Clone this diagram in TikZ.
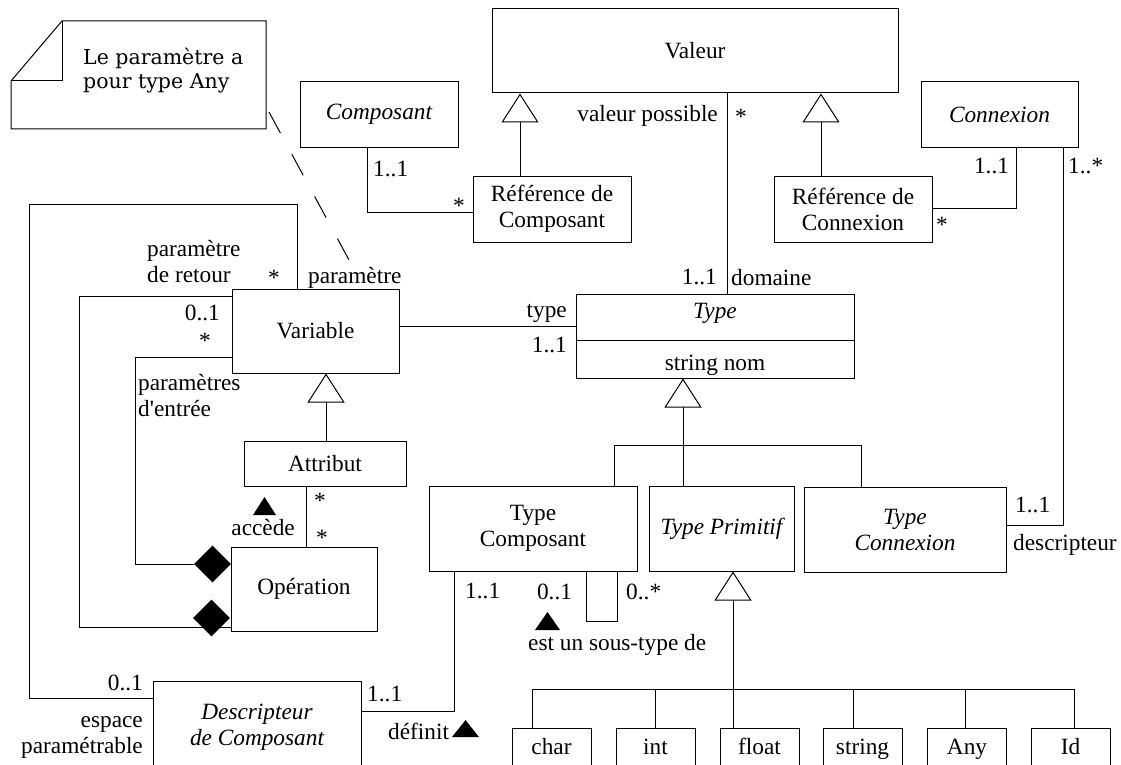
\documentclass[tikz,border=0pt]{standalone}
\usepackage{fontspec}
\setmainfont{Liberation Serif}
\newfontfamily\notefont{DejaVu Serif}
\usetikzlibrary{arrows.meta,shapes.geometric}

\begin{document}
\begin{tikzpicture}[x=1pt,y=-1pt,
  every node/.style={font=\fontsize{23.3}{26}\selectfont, inner sep=0pt},
  ital/.style={font=\fontsize{23.3}{26}\selectfont\itshape},
  box/.style={draw, line width=1pt, align=center},
  prim/.style={box, minimum width=79pt, minimum height=42pt, text height=16pt, text depth=5pt},
  conn/.style={line width=1pt},
  gen/.style={conn, -{Triangle[open, length=29pt, width=37pt]}},
  agg/.style={diamond, fill=black, minimum width=37pt, minimum height=37pt},
  navtip/.style={fill=black},
]
\clip (0,0) rectangle (1121,765);
\fill[white] (0,0) rectangle (1121,765);

% ---------- classes ----------
\node[box, minimum width=406pt, minimum height=84pt] (valeur) at (695,51) {Valeur};
\node[box, ital, minimum width=158pt, minimum height=65pt] (composant) at (379,114.5) {Composant};
\node[box, minimum width=158pt, minimum height=66pt] (refcomp) at (552,209) {Référence de\\Composant};
\node[box, minimum width=158pt, minimum height=66pt] (refconn) at (853,209) {Référence de\\Connexion};
\node[box, ital, minimum width=157pt, minimum height=65pt] (connexion) at (999.5,114.5) {Connexion};
\node[box, minimum width=167pt, minimum height=84pt] (variable) at (315.5,331) {Variable};
\node[box, minimum width=162pt, minimum height=45pt] (attribut) at (325,463.5) {Attribut};
\node[box, minimum width=146pt, minimum height=84pt] (operation) at (304,589) {Opération};

\node[box, minimum width=278pt, minimum height=84pt] (type) at (715,336) {};
\node[ital] (typename) at (715,313) {Type};
\node (typeattr) at (715,365) {string nom};
\coordinate (typediv) at (0,340);
\draw[conn] (type.west |- typediv) -- (type.east |- typediv);

\node[box, minimum width=208pt, minimum height=85pt] (typecomp) at (533,528.5) {Type\\Composant};
\node[box, ital, minimum width=145pt, minimum height=85pt] (typeprim) at (721.5,528.5) {Type Primitif};
\node[box, ital, minimum width=202pt, minimum height=85pt] (typeconn) at (905,529.5) {Type\\Connexion};
\node[box, ital, minimum width=208pt, minimum height=92pt] (descr) at (257,727) {Descripteur\\de Composant};

\node[prim] (char) at (551.5,749) {char};
\node[prim] (int) at (655.5,749) {int};
\node[prim] (float) at (759.5,749) {float};
\node[prim] (string) at (862.5,749) {string};
\node[prim] (any) at (967,749) {Any};
\node[prim] (id) at (1070.5,749) {Id};

% ---------- note ----------
\draw[conn] (62,21) -- (266,21) -- (266,129) -- (11,129) -- (11,81) -- cycle;
\draw[conn] (62,21) -- (62,81) -- (11,81);
\node[anchor=base west, align=left, font=\notefont\fontsize{20.5}{24}\selectfont] (note) at (83,89) {Le paramètre a\\pour type Any};

% ---------- guide points ----------
\coordinate (gRC) at (520,0);
\coordinate (gRN) at (821,0);
\coordinate (cA) at (367,212);
\coordinate (cB) at (1016,208);
\coordinate (cC) at (1063,525);
\coordinate (cD) at (727,0);
\coordinate (cE) at (0,326);
\coordinate (cF) at (683,445);
\coordinate (cG) at (614,445);
\coordinate (cH) at (861,445);
\coordinate (cI) at (733,689);
\coordinate (cJ) at (326,0);
\coordinate (cK) at (306,0);
\coordinate (cL) at (135,357);
\coordinate (cM) at (79,627);
\coordinate (cN) at (79,296);
\coordinate (cO) at (29,698);
\coordinate (cP) at (29,204);
\coordinate (cQ) at (297,204);
\coordinate (cR) at (454,711);
\coordinate (cS) at (586,621);
\coordinate (cT) at (617,621);
\coordinate (bL) at (532,689);
\coordinate (bR) at (1074,689);
\coordinate (bInt) at (655,689);
\coordinate (bStr) at (853,689);
\coordinate (bAny) at (965,689);
\coordinate (notetip) at (269,112);
\coordinate (paramtip) at (349,260);

% ---------- generalisations ----------
\draw[gen] (refcomp.north -| gRC) -- (valeur.south -| gRC);
\draw[gen] (refconn.north -| gRN) -- (valeur.south -| gRN);
\draw[gen] (attribut.north -| cJ) -- (variable.south -| cJ);
\draw[gen] (typeprim.north -| cF) -- (type.south -| cF);
\draw[conn] (typecomp.north -| cG) -- (cG) -- (cH) -- (typeconn.north -| cH);
\draw[gen] (float.north -| cI) -- (typeprim.south -| cI);
\draw[conn] (char.north -| bL) -- (bL) -- (bR) -- (id.north -| bR);
\draw[conn] (int.north -| bInt) -- (bInt);
\draw[conn] (string.north -| bStr) -- (bStr);
\draw[conn] (any.north -| bAny) -- (bAny);

% ---------- associations ----------
\draw[conn] (composant.south -| cA) -- (cA) -- (refcomp.west |- cA);
\draw[conn] (connexion.south -| cB) -- (cB) -- (refconn.east |- cB);
\draw[conn] (connexion.south -| cC) -- (cC) -- (typeconn.east |- cC);
\draw[conn] (valeur.south -| cD) -- (type.north -| cD);
\draw[conn] (variable.east |- cE) -- (type.west |- cE);
\draw[conn] (attribut.south -| cK) -- (operation.north -| cK);
\draw[conn] (descr.west |- cO) -- (cO) -- (cP) -- (cQ) -- (variable.north -| cQ);
\draw[conn] (descr.east |- cR) -- (cR) -- (typecomp.south -| cR);
\draw[conn] (typecomp.south -| cS) -- (cS) -- (cT) -- (typecomp.south -| cT);

% compositions
\node[agg] (d1) at (212.5,564) {};
\node[agg] (d2) at (211.5,618) {};
\draw[conn] (d1.west) -| (cL) -- (variable.west |- cL);
\draw[conn] (operation.west |- cM) -- (cM) -- (cN) -- (variable.west |- cN);

% note link
\draw[line width=1pt, dash pattern=on 24pt off 24pt] (notetip) -- (paramtip);

% ---------- labels ----------
\node[anchor=east] (lvp) at (718,115.5) {valeur possible};
\node (lvps) at (741,117) {*};
\node[anchor=east] (ldom1) at (717,276.5) {1..1};
\node[anchor=west] (ldom) at (731,277.5) {domaine};
\node[anchor=east] (ltype) at (567,313.5) {type};
\node[anchor=east] (ltype1) at (567,344.5) {1..1};
\node[anchor=west] (lc1) at (373,169) {1..1};
\node (lcs) at (459,205.5) {*};
\node (lk1) at (991.5,166) {1..1};
\node (lks) at (942,225) {*};
\node[anchor=west] (lkm) at (1068,166) {1..*};
\node[anchor=west] (ltc1) at (1015,505) {1..1};
\node[anchor=west] (ldesc) at (1013,545) {descripteur};
\node (lst1) at (554.5,591.5) {0..1};
\node[anchor=west] (lst2) at (626,591.5) {0..*};
\node[anchor=west] (lst) at (528,644.5) {est un sous-type de};
\node[anchor=west] (ldt1) at (465,591) {1..1};
\node[anchor=west] (ldd1) at (367,693.5) {1..1};
\node[anchor=west] (ldef) at (388,731.5) {définit};
\node[anchor=east] (lesp1) at (143,682.5) {0..1};
\node[anchor=base east, align=right] (lesp) at (143,753.5) {espace\\paramétrable};
\node[anchor=base west, align=left] (lret) at (147,282.7) {paramètre\\de retour};
\node (lrets) at (274,278) {*};
\node[anchor=west] (lparam) at (308,277.6) {paramètre};
\node[anchor=east] (lv01) at (220,313) {0..1};
\node (lvs) at (205,341) {*};
\node[anchor=base west, align=left] (lent) at (138,416.7) {paramètres\\d\textquotesingle entrée};
\node (las1) at (320,501) {*};
\node (las2) at (322,538) {*};
\node[anchor=east] (lacc) at (295,528) {accède};

% reading-direction marks
\fill[navtip] (253,515) -- (276,515) -- (264.5,497) -- cycle;
\fill[navtip] (535,630) -- (560,630) -- (547.5,612) -- cycle;
\fill[navtip] (452,737) -- (479,737) -- (465.5,720) -- cycle;
\end{tikzpicture}
\end{document}
